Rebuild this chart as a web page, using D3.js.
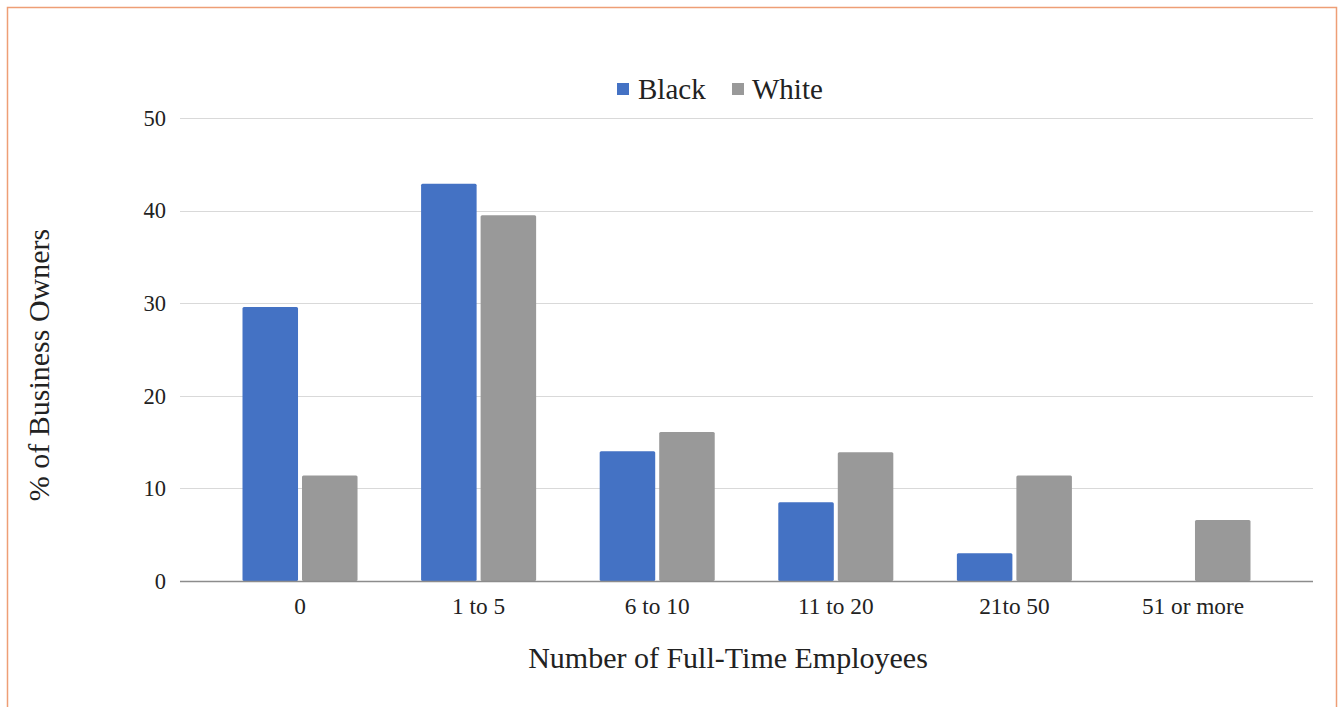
<!DOCTYPE html>
<html>
<head>
<meta charset="utf-8">
<script src="https://cdn.jsdelivr.net/npm/d3@7"></script>
<style>
  html, body { margin: 0; padding: 0; background: #fff; }
  svg { display: block; }
  text { font-family: "Liberation Serif", "Times New Roman", serif; fill: #222; }
</style>
</head>
<body>
<svg id="chart" width="1341" height="707"></svg>
<script>
// Share of business owners by number of full-time employees
const categories = ["0", "1 to 5", "6 to 10", "11 to 20", "21to 50", "51 or more"];
const seriesNames = ["Black", "White"];
const blackValues = [29.6, 42.9, 14.0, 8.5, 3.0, 0];
const whiteValues = [11.4, 39.5, 16.1, 13.9, 11.4, 6.6];
const yTicks = [0, 10, 20, 30, 40, 50];
const colors = { Black: "#4472C4", White: "#999999" };

const svg = d3.select("#chart");

// outer frame
svg.append("rect")
  .attr("x", 7.5).attr("y", 7.5)
  .attr("width", 1329).attr("height", 720)
  .attr("fill", "none")
  .attr("stroke", "#EE9E76")
  .attr("stroke-width", 1.5);

const plot = { left: 180, right: 1313, top: 118, bottom: 581 };

const y = d3.scaleLinear().domain([0, 50]).range([plot.bottom, plot.top]);
const x0 = d3.scaleBand().domain(categories)
  .range([plot.left, plot.right])
  .paddingInner(0).paddingOuter(0.172);
const x1 = d3.scaleBand().domain(seriesNames)
  .range([0, x0.bandwidth()])
  .paddingInner(0.067).paddingOuter(0.534);

// gridlines
svg.append("g")
  .selectAll("line")
  .data(yTicks.filter(d => d > 0))
  .join("line")
  .attr("x1", plot.left).attr("x2", plot.right)
  .attr("y1", d => Math.round(y(d)) + 0.5).attr("y2", d => Math.round(y(d)) + 0.5)
  .attr("stroke", "#d9d9d9").attr("stroke-width", 1);

// y axis labels
const yAxis = d3.axisLeft(y).tickValues(yTicks).tickSize(0).tickPadding(14);
const gy = svg.append("g").attr("transform", `translate(${plot.left},0)`).call(yAxis);
gy.select(".domain").remove();
gy.selectAll("text")
  .style("font-family", "'Liberation Serif', 'Times New Roman', serif")
  .style("font-size", "22.5px").attr("fill", "#222");

// bars
const rows = categories.map((c, i) => ({ cat: c, Black: blackValues[i], White: whiteValues[i] }));
const groups = svg.append("g").selectAll("g")
  .data(rows).join("g")
  .attr("transform", d => `translate(${x0(d.cat)},0)`);
groups.selectAll("rect")
  .data(d => seriesNames.map(s => ({ s, v: d[s] })).filter(e => e.v > 0))
  .join("rect")
  .attr("x", d => x1(d.s))
  .attr("y", d => y(d.v))
  .attr("width", x1.bandwidth())
  .attr("height", d => y(0) - y(d.v))
  .attr("rx", 1.5)
  .attr("fill", d => colors[d.s]);

// x axis
const xAxis = d3.axisBottom(x0).tickSize(0).tickPadding(16);
const gx = svg.append("g").attr("transform", `translate(0,${plot.bottom})`).call(xAxis);
gx.select(".domain").remove();
gx.selectAll("text")
  .style("font-family", "'Liberation Serif', 'Times New Roman', serif")
  .style("font-size", "23.3px").attr("fill", "#222");
svg.append("line")
  .attr("x1", plot.left).attr("x2", plot.right)
  .attr("y1", plot.bottom + 0.5).attr("y2", plot.bottom + 0.5)
  .attr("stroke", "#8c8c8c").attr("stroke-width", 1.3);

// axis titles
svg.append("text")
  .attr("x", 728).attr("y", 668)
  .attr("text-anchor", "middle")
  .style("font-size", "30px")
  .text("Number of Full-Time Employees");
svg.append("text")
  .attr("transform", "translate(49,365) rotate(-90)")
  .attr("text-anchor", "middle")
  .style("font-size", "30px")
  .text("% of Business Owners");

// legend
const legend = svg.append("g");
const legendItems = [
  { name: "Black", sx: 617, tx: 638 },
  { name: "White", sx: 732, tx: 752 }
];
legendItems.forEach(it => {
  legend.append("rect")
    .attr("x", it.sx).attr("y", 83)
    .attr("width", 12).attr("height", 12)
    .attr("fill", colors[it.name]);
  legend.append("text")
    .attr("x", it.tx).attr("y", 99)
    .style("font-size", "29px")
    .text(it.name);
});
</script>
</body>
</html>
